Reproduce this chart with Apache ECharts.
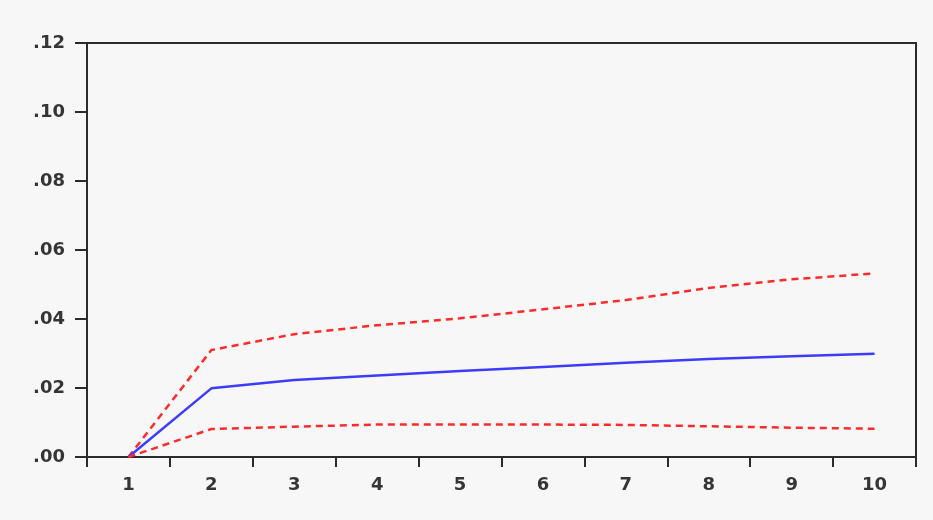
<!DOCTYPE html>
<html>
	<head>
		<meta charset="UTF-8">
		<title>impulse response</title>
		<style type="text/css">
			html, body { margin: 0; padding: 0; background: #f7f7f7; }
			#main { width: 933px; height: 520px; }
		</style>
		<script src="https://cdn.jsdelivr.net/npm/echarts@6/dist/echarts.min.js"></script>
	</head>
	<body>
		<div id="main"></div>
		<script>
			// periods on the x axis
			var periods = ['1', '2', '3', '4', '5', '6', '7', '8', '9', '10'];
			// response (blue) and +/- 2 S.E. bands (red dashed)
			var response = [0, 0.0199, 0.0223, 0.0236, 0.0249, 0.0261, 0.0273, 0.0284, 0.0292, 0.0299];
			var upperBand = [0, 0.0310, 0.0356, 0.0382, 0.0402, 0.0428, 0.0455, 0.0490, 0.0515, 0.0532];
			var lowerBand = [0, 0.0081, 0.0088, 0.0094, 0.0094, 0.0094, 0.0093, 0.0089, 0.0085, 0.0082];

			var chart = echarts.init(document.getElementById('main'));

			var labelFont = {
				color: '#353535',
				fontFamily: 'DejaVu Sans, sans-serif',
				fontWeight: 'bold',
				fontSize: 18
			};

			var option = {
				backgroundColor: '#f7f7f7',
				animation: false,
				grid: {
					left: 87, right: 17, top: 43, bottom: 63,
					show: true,
					borderColor: '#2b2b2b',
					borderWidth: 2,
					backgroundColor: 'transparent'
				},
				xAxis: {
					type: 'category',
					data: periods,
					boundaryGap: true,
					axisLine: { lineStyle: { color: '#2b2b2b', width: 2 } },
					axisTick: { show: true, length: 10, lineStyle: { color: '#2b2b2b', width: 2 } },
					axisLabel: Object.assign({ margin: 19 }, labelFont),
					splitLine: { show: false }
				},
				yAxis: {
					type: 'value',
					min: 0, max: 0.12, interval: 0.02,
					axisLine: { show: true, lineStyle: { color: '#2b2b2b', width: 2 } },
					axisTick: { show: true, length: 12, lineStyle: { color: '#2b2b2b', width: 2 } },
					axisLabel: Object.assign({
						margin: 22,
						formatter: function (v) { return v.toFixed(2).replace(/^0/, ''); }
					}, labelFont),
					splitLine: { show: false }
				},
				series: [
					{
						name: 'upper', type: 'line', data: upperBand, symbol: 'none',
						lineStyle: { color: '#ff2a2a', width: 2.5, type: [7, 5] }
					},
					{
						name: 'response', type: 'line', data: response, symbol: 'none',
						lineStyle: { color: '#3c3cff', width: 2.5 }
					},
					{
						name: 'lower', type: 'line', data: lowerBand, symbol: 'none',
						lineStyle: { color: '#ff2a2a', width: 2.5, type: [7, 5] }
					}
				]
			};

			chart.setOption(option);
		</script>
	</body>
</html>
